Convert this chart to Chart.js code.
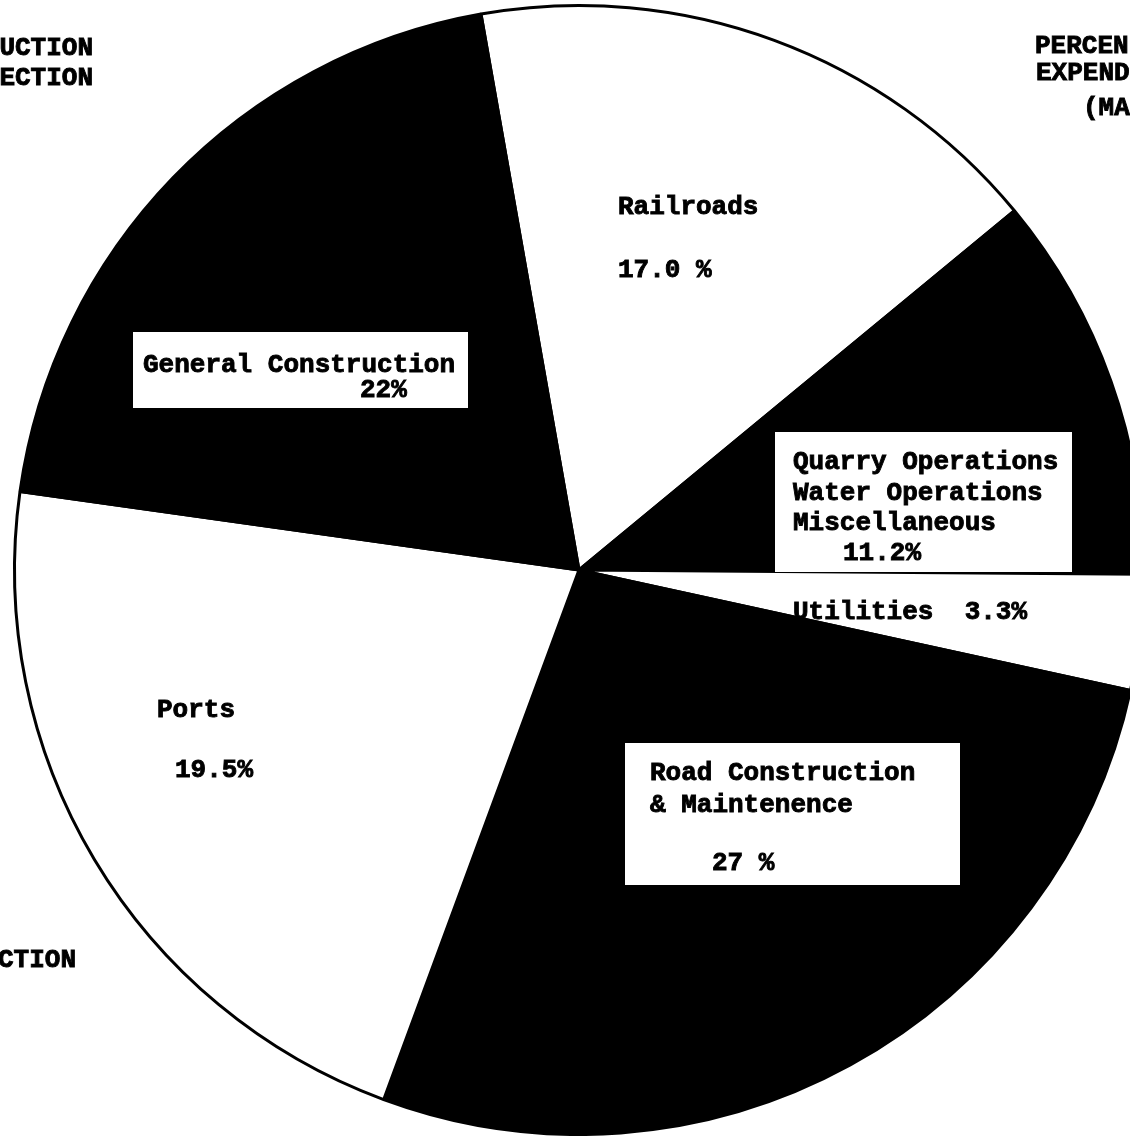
<!DOCTYPE html>
<html>
<head>
<meta charset="utf-8">
<script src="https://cdn.jsdelivr.net/npm/chart.js@4.4.1/dist/chart.umd.min.js"></script>
<style>
  html, body { margin: 0; padding: 0; background: #fff; overflow: hidden; }
  canvas { display: block; }
</style>
</head>
<body>
<canvas id="pie" width="1150" height="1136"></canvas>
<script>
// slices, clockwise from the Railroads / General Construction edge
const categories = [
  "Railroads",
  "Quarry Operations, Water Operations, Miscellaneous",
  "Utilities",
  "Road Construction & Maintenence",
  "Ports",
  "General Construction",
];
// share of the circle as drawn (percent)
const shares = [16.8, 11.1, 3.3, 27.2, 21.6, 20.0];
// percentages as typed on the chart
const printedPct = ["17.0 %", "11.2%", "3.3%", "27 %", "19.5%", "22%"];

const fills = ["#ffffff", "#000000", "#ffffff", "#000000", "#ffffff", "#000000"];
const FONT = 'bold 26px "Liberation Mono", "DejaVu Sans Mono", monospace';

// label layout, offsets in px from the pie centre
const labelBoxes = [
  { box: [-446, -238, 335, 76], lines: [[-436, -205, categories[5]], [-219, -180, printedPct[5]]] },
  { box: [196, -138, 297, 140], lines: [[214, -108, "Quarry Operations"], [214, -77, "Water Operations"], [214, -47, "Miscellaneous"], [264, -17, printedPct[1]]] },
  { box: [46, 173, 335, 142], lines: [[71, 203, "Road Construction"], [71, 235, "& Maintenence"], [133, 293, printedPct[3]]] },
  { box: null, lines: [[39, -363, categories[0]], [39, -300, printedPct[0]]] },
  { box: null, lines: [[-422, 140, categories[4]], [-404, 200, printedPct[4]]] },
  { box: null, lines: [[214, 42, categories[2] + "  " + printedPct[2]]] },
];

// cut-off words of the surrounding page, in page px
const pageBits = [
  { t: "UCTION", x: 93, y: 48, align: "right" },
  { t: "ECTION", x: 93, y: 78, align: "right" },
  { t: "CTION", x: 76, y: 960, align: "right" },
  { t: "PERCEN", x: 1035, y: 46, align: "left" },
  { t: "EXPEND", x: 1036, y: 73, align: "left" },
  { t: "(MA", x: 1083, y: 108, align: "left" },
];

function typed(ctx, t, x, y) {
  ctx.fillText(t, x, y);
  ctx.strokeText(t, x, y); // heavier, like the typewriter ink
}

const typedLabels = {
  id: "typedLabels",
  afterDraw(chart) {
    const ctx = chart.ctx;
    const arc = chart.getDatasetMeta(0).data[0];
    const cx = arc.x, cy = arc.y;
    ctx.save();
    ctx.font = FONT;
    ctx.textBaseline = "middle";
    ctx.strokeStyle = "#000";
    ctx.lineWidth = 0.9;
    labelBoxes.forEach((lb) => {
      if (lb.box) {
        ctx.fillStyle = "#fff";
        ctx.fillRect(cx + lb.box[0], cy + lb.box[1], lb.box[2], lb.box[3]);
      }
      ctx.fillStyle = "#000";
      ctx.textAlign = "left";
      lb.lines.forEach(([dx, dy, t]) => typed(ctx, t, cx + dx, cy + dy));
    });
    ctx.fillStyle = "#000";
    pageBits.forEach((p) => {
      ctx.textAlign = p.align;
      typed(ctx, p.t, p.x, p.y);
    });
    ctx.restore();
  },
};

new Chart(document.getElementById("pie").getContext("2d"), {
  type: "pie",
  data: {
    labels: categories,
    datasets: [
      {
        data: shares,
        backgroundColor: fills,
        borderColor: "#000",
        borderWidth: 3,
      },
    ],
  },
  options: {
    responsive: false,
    animation: false,
    rotation: -10,
    layout: { padding: { left: 13, top: 4, right: 5, bottom: 0 } },
    plugins: {
      legend: { display: false },
      tooltip: { enabled: false },
      title: { display: false },
    },
  },
  plugins: [typedLabels],
});
</script>
</body>
</html>
